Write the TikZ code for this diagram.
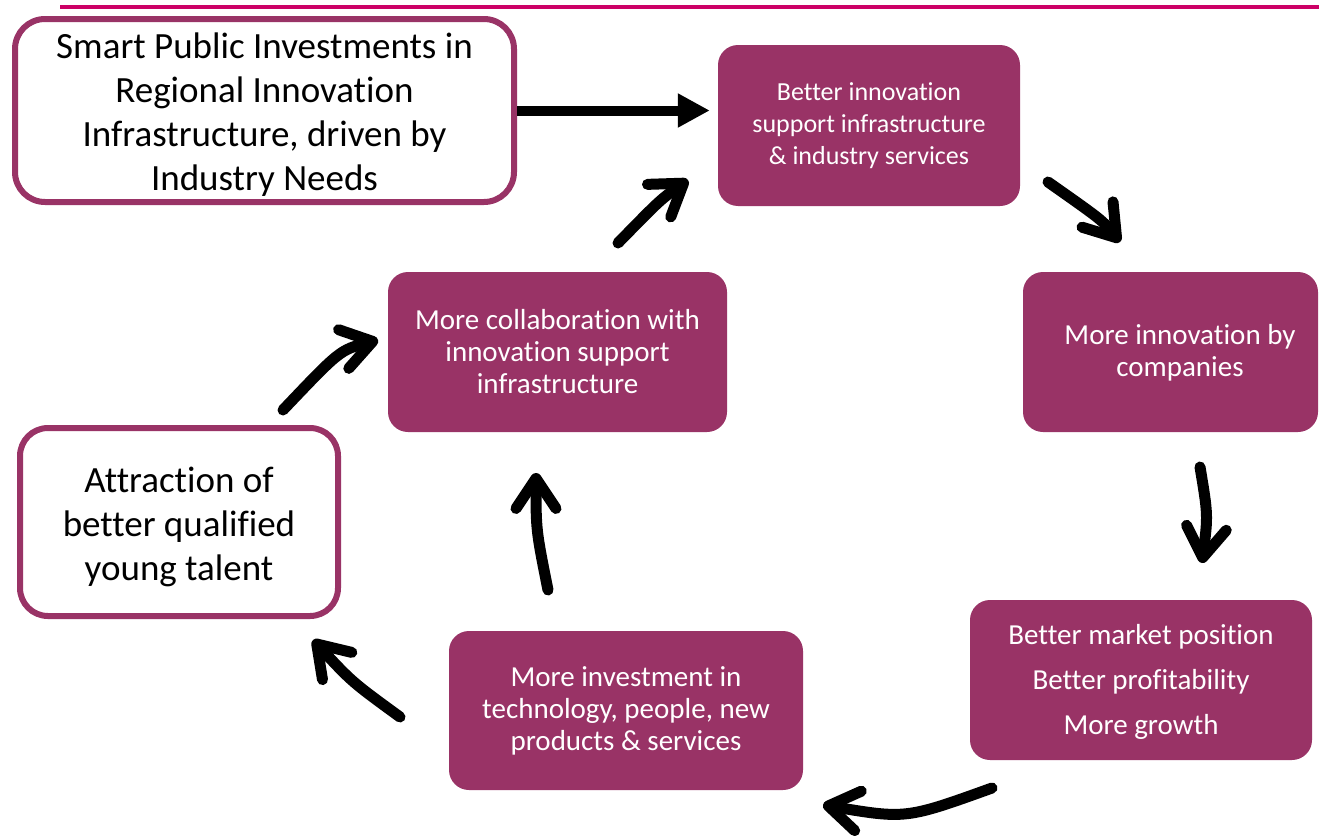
\documentclass[tikz,border=0pt]{standalone}
\usepackage{fontspec}
\setmainfont[RawFeature={-liga;-clig;-calt;-dlig}]{Carlito}
\usetikzlibrary{arrows.meta}
\definecolor{plum}{HTML}{993366}
\definecolor{topline}{HTML}{CC0066}
\begin{document}
\begin{tikzpicture}[x=1pt,y=-1pt,
  pbox/.style={fill=plum, rounded corners=20pt, inner sep=0pt, text=white, align=center, font=\fontsize{29}{32}\selectfont},
  ptext/.style={text=white, align=center, inner sep=0pt, font=\fontsize{29}{32}\selectfont},
  wbox/.style={draw=plum, line width=6pt, fill=white, rounded corners=30pt, inner sep=0pt},
  wtext/.style={text=black, align=center, inner sep=0pt, font=\fontsize{37}{44}\selectfont},
  flow/.style={line width=11pt, line cap=round, -{Straight Barb[length=30pt,width=40pt,round]}},
  straightflow/.style={line width=10pt, -{Triangle[length=32pt,width=32pt]}},
]
\useasboundingbox (0,0) rectangle (1319,835);
\draw[topline, line width=4.5pt] (60,7) -- (1319,7);

\node[wbox, minimum width=499pt, minimum height=183pt] (inv) at (264.5,110.5) {};
\node[wtext] (invt) at (264.5,114.5)
  {Smart Public Investments in\\Regional Innovation\\Infrastructure, driven by\\Industry Needs};
\node[pbox, minimum width=302pt, minimum height=161pt, font=\fontsize{26}{32}\selectfont] (b2) at (869,125.5)
  {Better innovation\\support infrastructure\\\& industry services};
\node[pbox, minimum width=295pt, minimum height=160pt] (b3) at (1170.5,352) {};
\node[ptext] (b3t) at (1180,353) {More innovation by\\companies};
\node[pbox, minimum width=342pt, minimum height=160pt] (b4) at (1141,680) {};
\node[ptext] (b4t) at (1141,682)
  {Better market position\\[13pt]Better profitability\\[13pt]More growth};
\node[pbox, minimum width=354pt, minimum height=159pt] (b5) at (626,710.5)
  {More investment in\\technology, people, new\\products \& services};
\node[pbox, minimum width=339pt, minimum height=160pt] (b6) at (557.5,352)
  {More collaboration with\\innovation support\\infrastructure};
\node[wbox, rounded corners=28pt, minimum width=318pt, minimum height=188pt] (b7) at (179,522) {};
\node[wtext] (b7t) at (179,527) {Attraction of\\better qualified\\young talent};

\draw[straightflow] (inv.east) -- ([xshift=-8pt]b2.west |- inv.east);

\coordinate (a2s) at (1048,182); \coordinate (a2e) at (1120,242);
\draw[flow] (a2s) .. controls (1102,220) .. (a2e);
\coordinate (a3s) at (1200,467); \coordinate (a3e) at (1202,563);
\draw[flow] (a3s) .. controls (1208,515) .. (a3e);
\coordinate (a4s) at (992,788); \coordinate (a4e) at (823,805);
\draw[flow] (a4s) .. controls (906,819) .. (a4e);
\coordinate (a5s) at (400,717); \coordinate (a5e) at (313,640);
\draw[flow] (a5s) .. controls (352,682) .. (a5e);
\coordinate (a6s) at (548,590); \coordinate (a6e) at (536,473);
\draw[flow] (a6s) .. controls (536,530) .. (a6e);
\coordinate (a7s) at (283,410); \coordinate (a7e) at (378,340);
\draw[flow] (a7s) .. controls (340,350) .. (a7e);
\coordinate (a8s) at (618,243); \coordinate (a8e) at (688,180);
\draw[flow] (a8s) .. controls (660,200) .. (a8e);
\end{tikzpicture}
\end{document}
